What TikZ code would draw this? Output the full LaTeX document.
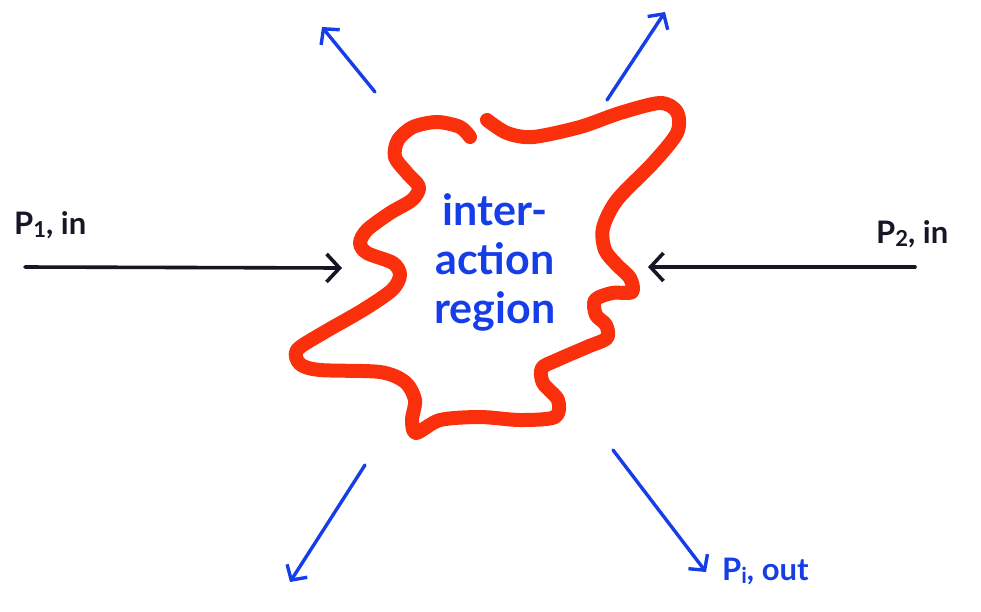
\documentclass[tikz,border=0pt]{standalone}
\usepackage{fontspec}
\setmainfont{Lato}
\usetikzlibrary{arrows.meta}
\definecolor{inkred}{RGB}{250,48,12}
\definecolor{inkblue}{RGB}{22,62,232}
\definecolor{inkblack}{RGB}{22,22,38}
\newcommand{\lowsub}[1]{\raisebox{-0.22ex}{\fontsize{22}{22}\selectfont #1}}
\tikzset{
  blackarrow/.style={draw=inkblack, line width=3.6pt, line cap=round,
    -{Straight Barb[length=13pt,width=28pt,line width=3.6pt]}},
  bluearrow/.style={draw=inkblue, line width=3.4pt, line cap=round,
    -{Straight Barb[length=11pt,width=24pt,line width=3.4pt]}},
  blob/.style={draw=inkred, line width=14pt, line cap=round, line join=round},
  blacklabel/.style={text=inkblack, font=\fontsize{31}{34}\selectfont\bfseries, inner sep=0pt},
  bluelabel/.style={text=inkblue, font=\fontsize{31}{34}\selectfont\bfseries, inner sep=0pt},
  regionlabel/.style={text=inkblue, font=\fontsize{43}{49}\selectfont\bfseries, align=center, inner sep=0pt}
}
\begin{document}
\begin{tikzpicture}[x=1pt,y=-1pt]
\useasboundingbox[fill=white] (0,0) rectangle (981,611);
% interaction region outline
\draw[blob] plot[smooth, tension=0.5] coordinates {
 (470,137) (460,127) (437,122) (413,127) (398,140) (395,157) (407,173) (419,187)
 (412,200) (390,213) (367,230) (360,243) (367,253) (393,263) (400,275) (392,290)
 (363,310) (323,333) (297,350) (300,364) (320,370) (380,372) (405,382) (415,400)
 (412,420) (416,433) (440,420) (480,417) (520,420) (555,417) (558,400) (543,383)
 (542,368) (557,360) (587,347) (607,338) (606,325) (596,315) (595,300) (612,293)
 (632,292) (630,278) (617,265) (605,250) (603,228) (617,200) (653,163) (677,133)
 (677,112) (660,103) (620,113) (580,127) (533,137) (507,133) (487,120)};
\node[regionlabel] (region) at (495,262) {inter-\\action\\region};
% incoming
\coordinate (p1s) at (25,267);
\coordinate (p1e) at (342,268);
\coordinate (p2s) at (915,267);
\coordinate (p2e) at (648,267);
\draw[blackarrow] (p1s) -- (p1e);
\draw[blackarrow] (p2s) -- (p2e);
\node[blacklabel, anchor=base west] (p1lab) at (14,234) {P\lowsub{1}, in};
\node[blacklabel, anchor=base west] (p2lab) at (876,243) {P\lowsub{2}, in};
% outgoing
\coordinate (o1s) at (375,92);
\coordinate (o1e) at (322,27);
\coordinate (o2s) at (607,100);
\coordinate (o2e) at (665,12);
\coordinate (o3s) at (365,465);
\coordinate (o3e) at (290,582);
\coordinate (o4s) at (613,450);
\coordinate (o4e) at (706,572);
\draw[bluearrow] (o1s) -- (o1e);
\draw[bluearrow] (o2s) -- (o2e);
\draw[bluearrow] (o3s) -- (o3e);
\draw[bluearrow] (o4s) -- (o4e);
\node[bluelabel, anchor=base west] (polab) at (722,580) {P\lowsub{i}, out};
\end{tikzpicture}
\end{document}
